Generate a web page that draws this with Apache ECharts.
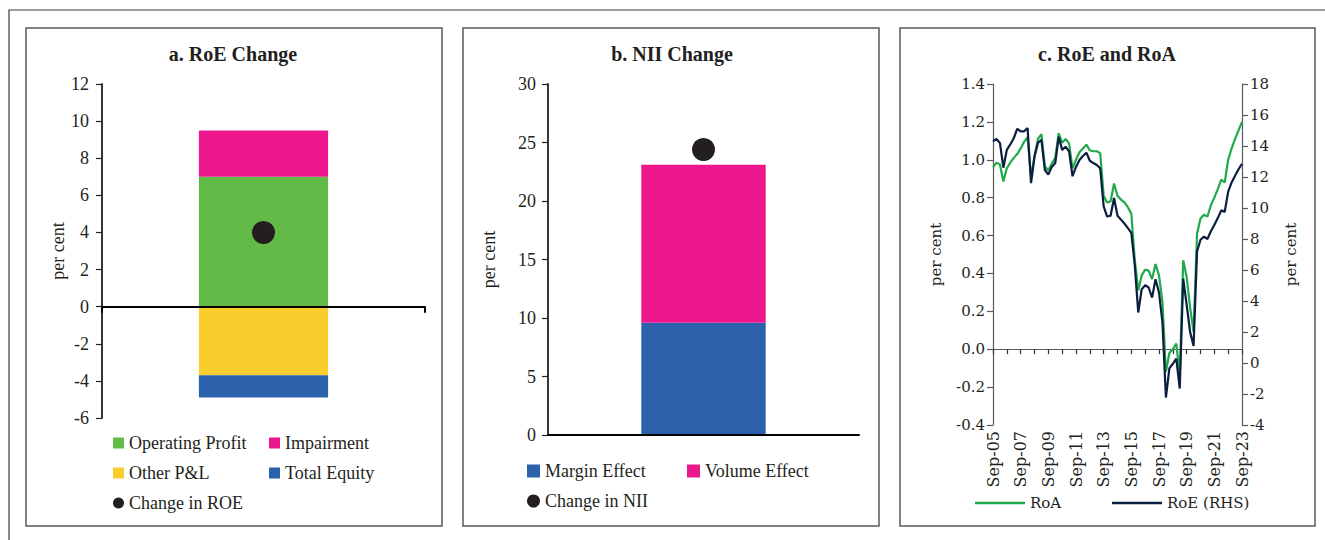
<!DOCTYPE html>
<html>
<head>
<meta charset="utf-8">
<title>RoE change, NII change, RoE and RoA</title>
<script src="https://cdn.jsdelivr.net/npm/echarts@6/dist/echarts.min.js"></script>
<style>
  html, body { margin: 0; padding: 0; background: #fff; }
  #chart { width: 1325px; height: 540px; }
</style>
</head>
<body>
<div id="chart"></div>
<script>
// a. RoE change, contributions (per cent)
var roeParts = ['Operating Profit', 'Impairment', 'Other P&L', 'Total Equity'];
var roeValues = [7.0, 2.5, -3.7, -1.2];
var roeChange = 4.0;

// b. NII change, contributions (per cent)
var niiParts = ['Margin Effect', 'Volume Effect'];
var niiValues = [9.6, 13.5];
var niiChange = 24.4;

// c. quarterly RoA (left) and RoE (right), per cent
var quarters = [
  'Sep-05','Dec-05','Mar-06','Jun-06','Sep-06','Dec-06','Mar-07','Jun-07',
  'Sep-07','Dec-07','Mar-08','Jun-08','Sep-08','Dec-08','Mar-09','Jun-09',
  'Sep-09','Dec-09','Mar-10','Jun-10','Sep-10','Dec-10','Mar-11','Jun-11',
  'Sep-11','Dec-11','Mar-12','Jun-12','Sep-12','Dec-12','Mar-13','Jun-13',
  'Sep-13','Dec-13','Mar-14','Jun-14','Sep-14','Dec-14','Mar-15','Jun-15',
  'Sep-15','Dec-15','Mar-16','Jun-16','Sep-16','Dec-16','Mar-17','Jun-17',
  'Sep-17','Dec-17','Mar-18','Jun-18','Sep-18','Dec-18','Mar-19','Jun-19',
  'Sep-19','Dec-19','Mar-20','Jun-20','Sep-20','Dec-20','Mar-21','Jun-21',
  'Sep-21','Dec-21','Mar-22','Jun-22','Sep-22','Dec-22','Mar-23','Jun-23',
  'Sep-23'
];
var roa = [
  0.96, 0.985, 0.975, 0.885, 0.955, 0.985, 1.01, 1.03,
  1.06, 1.095, 1.12, 0.91, 1.02, 1.11, 1.135, 0.965,
  0.945, 0.98, 1.01, 1.14, 1.09, 1.11, 1.085, 0.955,
  1.0, 1.04, 1.06, 1.08, 1.05, 1.045, 1.045, 1.035,
  0.81, 0.775, 0.78, 0.875, 0.81, 0.79, 0.775, 0.75,
  0.715, 0.47, 0.31, 0.39, 0.42, 0.415, 0.37, 0.45,
  0.39, 0.25, -0.12, -0.02, 0.0, 0.03, -0.14, 0.47,
  0.38, 0.22, 0.09, 0.61, 0.69, 0.71, 0.70, 0.76,
  0.80, 0.845, 0.895, 0.88, 1.0, 1.06, 1.11, 1.155,
  1.20
];
var roe = [
  14.3, 14.45, 14.2, 12.6, 13.75, 14.1, 14.5, 15.1,
  14.95, 14.95, 15.15, 11.6, 13.3, 14.2, 14.4, 12.45,
  12.15, 12.65, 12.9, 14.6, 13.75, 13.95, 13.65, 12.05,
  12.65, 13.1, 13.35, 13.57, 13.05, 12.9, 12.78, 12.56,
  10.1, 9.45, 9.5, 10.65, 9.5, 9.25, 9.0, 8.7,
  8.4, 6.3, 3.26, 4.76, 5.02, 4.87, 4.22, 5.4,
  4.55, 2.6, -2.23, -0.35, -0.05, 0.28, -1.65, 5.45,
  3.75, 2.0, 1.1, 7.2, 7.95, 8.15, 8.0, 8.5,
  8.9, 9.35, 9.85, 9.75, 11.05, 11.65, 12.08, 12.5,
  12.85
];

var ink = '#231f20';
var bookSerif = '"Liberation Serif", "DejaVu Serif", serif';   // panels a, b
var wideSerif = '"DejaVu Serif", "Liberation Serif", serif';   // panel c
var roeColors = ['#62bb46', '#ec178c', '#f9cd2c', '#2c62ac'];
var niiColors = ['#2c62ac', '#ec178c'];

var chart = echarts.init(document.getElementById('chart'), null, { renderer: 'svg' });

function labelStyle(family, size) {
  return { color: ink, fontFamily: family, fontSize: size };
}

function valueAxis(grid, min, max, step, opts) {
  return {
    type: 'value', gridIndex: grid, min: min, max: max, interval: step,
    position: opts.position || 'left',
    name: 'per cent', nameLocation: 'middle', nameGap: opts.nameGap,
    nameRotate: 90, nameTextStyle: labelStyle(opts.family, opts.size),
    axisLine: { show: true, lineStyle: { color: opts.color || ink, width: opts.width || 1.8 } },
    axisTick: { show: true, length: 6, lineStyle: { color: opts.color || ink, width: 1.2 } },
    axisLabel: Object.assign(labelStyle(opts.family, opts.size), { margin: opts.margin, formatter: opts.formatter }),
    splitLine: { show: false }
  };
}

function legendCol(left, top, items, family, size, iconW, iconH) {
  return {
    orient: 'vertical', left: left, top: top, itemGap: 10, padding: 0,
    itemWidth: iconW, itemHeight: iconH, selectedMode: false,
    textStyle: Object.assign(labelStyle(family, size), { lineHeight: 20 }),
    data: items
  };
}

var series = [];
roeParts.forEach(function (name, i) {
  series.push({
    name: name, type: 'bar', stack: 'roe', xAxisIndex: 0, yAxisIndex: 0,
    barWidth: '40%', itemStyle: { color: roeColors[i] },
    data: [roeValues[i]]
  });
});
series.push({
  name: 'Change in ROE', type: 'scatter', xAxisIndex: 0, yAxisIndex: 0,
  symbolSize: 23, itemStyle: { color: ink, opacity: 1 }, data: [roeChange]
});
niiParts.forEach(function (name, i) {
  series.push({
    name: name, type: 'bar', stack: 'nii', xAxisIndex: 1, yAxisIndex: 1,
    barWidth: '40%', itemStyle: { color: niiColors[i] },
    data: [niiValues[i]]
  });
});
series.push({
  name: 'Change in NII', type: 'scatter', xAxisIndex: 1, yAxisIndex: 1,
  symbolSize: 23, itemStyle: { color: ink, opacity: 1 }, data: [niiChange]
});
series.push({
  name: 'RoA', type: 'line', xAxisIndex: 2, yAxisIndex: 2, showSymbol: false,
  lineStyle: { color: '#1fab4b', width: 2.2 }, itemStyle: { color: '#1fab4b' },
  data: roa
});
series.push({
  name: 'RoE (RHS)', type: 'line', xAxisIndex: 2, yAxisIndex: 3, showSymbol: false,
  lineStyle: { color: '#0c1d42', width: 2.2 }, itemStyle: { color: '#0c1d42' },
  data: roe
});

var panelBox = { fill: 'none', stroke: '#58595b', lineWidth: 1.5 };
function title(x, text) {
  return {
    type: 'text', x: x, y: 54,
    style: { text: text, font: 'bold 20px ' + bookSerif, fill: ink, align: 'center', verticalAlign: 'middle' }
  };
}

var option = {
  backgroundColor: '#fff',
  animation: false,
  graphic: [
    { type: 'rect', shape: { x: 9, y: 10, width: 1340, height: 560 }, style: { fill: 'none', stroke: '#3a3a3a', lineWidth: 1.2 } },
    { type: 'rect', shape: { x: 26, y: 28, width: 416, height: 498 }, style: panelBox },
    { type: 'rect', shape: { x: 463, y: 28, width: 416, height: 498 }, style: panelBox },
    { type: 'rect', shape: { x: 900, y: 28, width: 415, height: 498 }, style: panelBox },
    title(233, 'a. RoE Change'),
    title(672, 'b. NII Change'),
    title(1107, 'c. RoE and RoA')
  ],
  grid: [
    { left: 102, top: 84, width: 323, height: 334, outerBoundsMode: 'none' },
    { left: 548, top: 84, width: 311, height: 351, outerBoundsMode: 'none' },
    { left: 993, top: 84, width: 249, height: 341, outerBoundsMode: 'none' }
  ],
  xAxis: [
    {
      type: 'category', gridIndex: 0, data: [''], z: 3,
      axisLine: { onZero: true, lineStyle: { color: '#000', width: 2 } },
      axisTick: { show: true, length: 6, lineStyle: { color: '#000', width: 2 } },
      axisLabel: { show: false }, splitLine: { show: false }
    },
    {
      type: 'category', gridIndex: 1, data: [''], z: 3,
      axisLine: { onZero: true, lineStyle: { color: '#000', width: 2 } },
      axisTick: { show: false }, axisLabel: { show: false }, splitLine: { show: false }
    },
    {
      type: 'category', gridIndex: 2, data: quarters, boundaryGap: false, position: 'bottom',
      axisLine: { show: false, onZero: false }, axisTick: { show: false },
      axisLabel: Object.assign(labelStyle(wideSerif, 16), { interval: 7, rotate: 90, margin: 6 }),
      splitLine: { show: false }
    },
    {
      type: 'category', gridIndex: 2, data: quarters, boundaryGap: false, position: 'bottom',
      axisLine: { show: true, onZero: true, onZeroAxisIndex: 2, lineStyle: { color: '#595959', width: 1.2 } },
      axisTick: { show: true, interval: 3, length: 5, lineStyle: { color: '#333', width: 1.2 } },
      axisLabel: { show: false }, splitLine: { show: false }
    }
  ],
  yAxis: [
    valueAxis(0, -6, 12, 2, { family: bookSerif, size: 18, nameGap: 30, margin: 13 }),
    valueAxis(1, 0, 30, 5, { family: bookSerif, size: 18, nameGap: 50, margin: 12 }),
    valueAxis(2, -0.4, 1.4, 0.2, {
      family: wideSerif, size: 15, nameGap: 50, margin: 8, color: '#595959', width: 1.2,
      formatter: function (v) { return v.toFixed(1); }
    }),
    valueAxis(2, -4, 18, 2, { family: wideSerif, size: 15, position: 'right', nameGap: 41, margin: 8, color: '#595959', width: 1.2 })
  ],
  legend: [
    legendCol(113, 433, [
      { name: 'Operating Profit', icon: 'rect' },
      { name: 'Other P&L', icon: 'rect' },
      { name: 'Change in ROE', icon: 'circle' }
    ], bookSerif, 18, 11, 11),
    legendCol(269, 433, [
      { name: 'Impairment', icon: 'rect' },
      { name: 'Total Equity', icon: 'rect' }
    ], bookSerif, 18, 11, 11),
    legendCol(527, 461, [
      { name: 'Margin Effect', icon: 'rect' },
      { name: 'Change in NII', icon: 'circle' }
    ], bookSerif, 18, 13, 13),
    legendCol(687, 461, [
      { name: 'Volume Effect', icon: 'rect' }
    ], bookSerif, 18, 13, 13),
    legendCol(975, 493, [{ name: 'RoA', icon: 'rect' }], wideSerif, 15, 50, 2.5),
    legendCol(1112, 493, [{ name: 'RoE (RHS)', icon: 'rect' }], wideSerif, 15, 50, 2.5)
  ],
  series: series
};

chart.setOption(option);
</script>
</body>
</html>
